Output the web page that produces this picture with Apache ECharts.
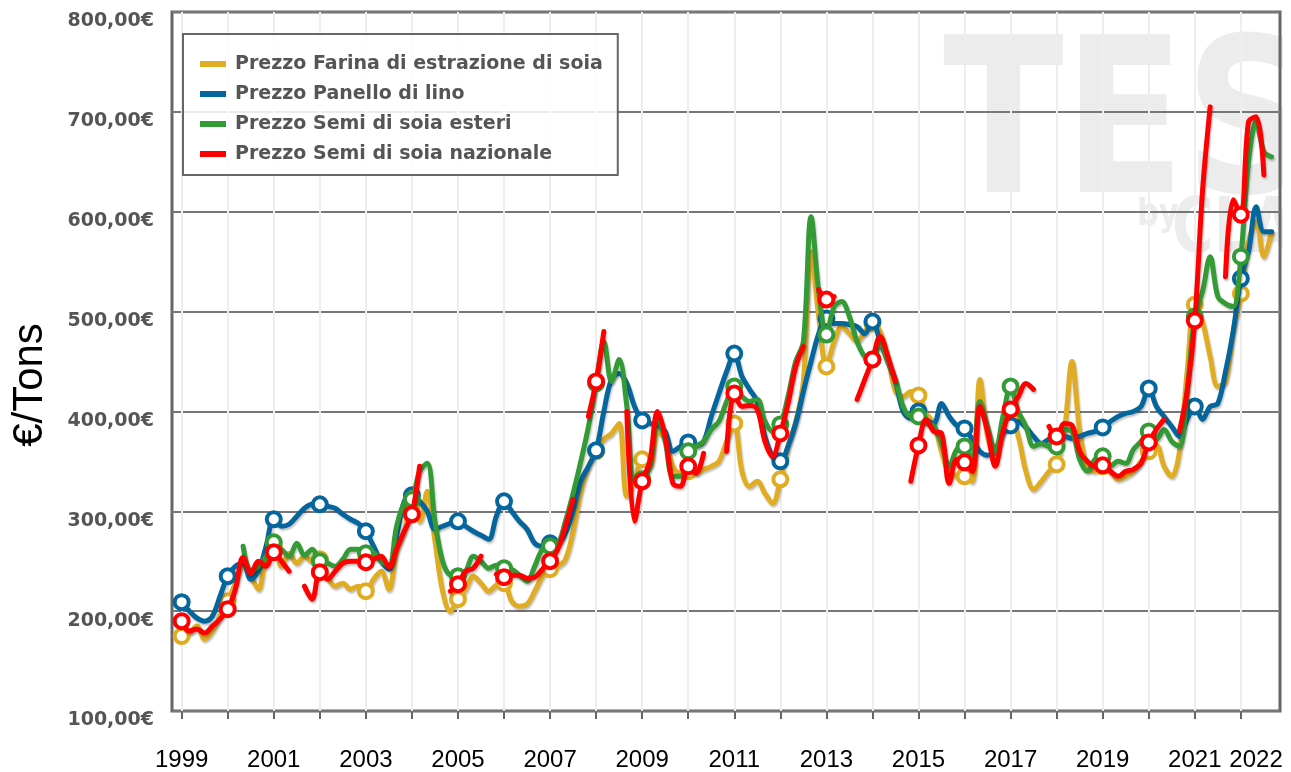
<!DOCTYPE html>
<html>
<head>
<meta charset="utf-8">
<title>Prezzi soia e lino</title>
<script src="https://cdn.jsdelivr.net/npm/echarts@6/dist/echarts.min.js"></script>
<style>
html, body { margin: 0; padding: 0; background: #fff; }
#main { width: 1291px; height: 772px; }
</style>
</head>
<body>
<div id="main"></div>
<script>
// every series is sampled every two months, starting January 1999
var startYear = 1999;
var perYear = 6;

var tickYears = [1999, 2000, 2001, 2002, 2003, 2004, 2005, 2006, 2007, 2008, 2009, 2010,
	2011, 2012, 2013, 2014, 2015, 2016, 2017, 2018, 2019, 2020, 2021, 2022];
var labelYears = [1999, 2001, 2003, 2005, 2007, 2009, 2011, 2013, 2015, 2017, 2019, 2021];
// the last label sits a little right of its tick in the original
var lastLabelAt = [2022.33];

var names = ['Prezzo Farina di estrazione di soia', 'Prezzo Panello di lino',
	'Prezzo Semi di soia esteri', 'Prezzo Semi di soia nazionale'];
var colors = ['#e0ac22', '#05669e', '#339a36', '#ff0000'];

var farina = [
	175, 178, 185, 172, 180, 195,
	210, 228, 245, 235, 222, 255,
	265, 245, 258, 248, 255, 250,
	252, 235, 225, 228, 222, 225,
	220, 232, 240, 222, 260, 280,
	305, 290, 320, 270, 220, 200,
	212, 222, 235, 228, 220, 226,
	228, 210, 205, 207, 220, 235,
	242, 245, 252, 280, 320, 345,
	360, 372, 378, 388, 315, 330,
	352, 345, 380, 372, 345, 338,
	340, 338, 342, 345, 350, 370,
	388, 340, 325, 330, 318, 308,
	332, 365, 390, 430, 560, 495,
	445, 470, 485, 478, 470, 480,
	488, 480, 455, 420, 415, 420,
	416, 398, 388, 360, 338, 336,
	335, 330, 432, 375, 355, 380,
	395, 375, 340, 322, 330, 340,
	347, 380, 450, 380, 345, 340,
	345, 340, 332, 335, 340, 350,
	360, 366, 345, 335, 360, 440,
	507, 490, 455, 425, 430, 480,
	518, 570, 590, 555, 580
];

var panello = [
	209, 200, 193, 190, 195, 215,
	235, 245, 248, 232, 240, 265,
	292, 285, 287, 295, 303, 307,
	307, 305, 303, 297, 292, 288,
	280, 265, 250, 242, 275, 310,
	316, 310, 300, 282, 285, 288,
	290, 285, 280, 276, 272, 295,
	310, 300, 290, 282, 268, 265,
	268, 268, 278, 300, 330, 345,
	361, 400, 432, 438, 428, 405,
	391, 388, 386, 380, 360, 365,
	369, 366, 370, 395, 418, 440,
	458, 435, 422, 410, 375, 355,
	350, 365, 388, 420, 450, 478,
	493, 488, 488, 487, 485, 478,
	490, 470, 450, 430, 400, 393,
	400, 392, 388, 408, 395, 386,
	383, 372, 360, 356, 362, 378,
	386, 390, 384, 375, 368, 372,
	374, 375, 373, 375, 378, 380,
	384, 390, 395, 398, 400, 405,
	423, 405, 395, 385, 375, 392,
	405, 392, 405, 408, 440, 480,
	533, 560, 605, 580, 580
];

var esteri = [
	null, null, null, null, null, null,
	null, null, 265, 240, 245, 255,
	269, 262, 255, 268, 256, 262,
	250, 248, 245, 252, 262, 262,
	258, 258, 250, 246, 285, 308,
	312, 340, 348, 290, 250, 236,
	235, 240, 255, 250, 243, 246,
	243, 242, 236, 230, 245, 262,
	265, 267, 290, 318, 350, 385,
	428, 470, 430, 452, 405, 330,
	332, 345, 395, 370, 335, 335,
	360, 365, 370, 382, 390, 410,
	425, 415, 410, 412, 390, 380,
	387, 415, 450, 470, 595, 520,
	477, 505, 510, 495, 470, 455,
	452, 468, 450, 432, 405, 395,
	395, 388, 385, 368, 345, 362,
	365, 350, 410, 385, 360, 395,
	425, 400, 385, 365, 368, 365,
	365, 382, 380, 352, 340, 352,
	355, 345, 350, 348, 362, 370,
	380, 372, 382, 370, 365, 420,
	495, 520, 555, 515, 508, 505,
	555, 650, 690, 660, 655
];

var nazionale = [
	190, 180, 182, 178, 185, 192,
	202, 222, 254, 238, 250, 245,
	259, 250, 240, null, 225, 212,
	239, 232, 240, 248, 250, 250,
	249, 252, 255, 244, 262, 280,
	297, 345, null, null, null, 220,
	227, 240, 243, 255, null, 237,
	234, 236, 236, 233, 234, 242,
	250, 262, 285, 312, null, 395,
	430, 480, null, null, 400, 290,
	330, 350, 400, 375, 328, 325,
	345, 338, 358, null, null, 360,
	418, 405, 406, 402, 370, 355,
	378, 408, 445, 465, null, 522,
	512, 515, null, null, 412, 432,
	452, 475, 455, 430, null, 330,
	366, 392, 380, 378, 328, 352,
	349, 340, 405, 380, 345, 380,
	402, 415, 428, 422, null, 385,
	375, 388, 386, 360, 350, 345,
	346, 340, 335, 340, 342, 348,
	369, 382, 392, null, 380, 420,
	491, 620, 705, null, 535, 612,
	597, 690, 695, 637
];

var seriesValues = [farina, panello, esteri, nazionale];

function toPoints(values) {
	var out = [];
	for (var i = 0; i < values.length; i++) {
		out.push([startYear + i / perYear, values[i]]);
	}
	return out;
}

var e = document.getElementById('main');
var myChart = echarts.init(e);

var series = [];
for (var s = 0; s < seriesValues.length; s++) {
	series.push({
		name : names[s],
		type : 'line',
		data : toPoints(seriesValues[s]),
		smooth : 0.35,
		connectNulls : false,
		symbol : function(v, p) {
			return p.dataIndex % perYear === 0 ? 'circle' : 'none';
		},
		symbolSize : 14,
		showSymbol : true,
		z : 2 + s,
		lineStyle : {
			color : colors[s],
			width : 5,
			cap : 'round',
			join : 'round',
			shadowColor : 'rgba(0,0,0,0.25)',
			shadowBlur : 2,
			shadowOffsetX : 1,
			shadowOffsetY : 2
		},
		itemStyle : {
			color : '#fff',
			borderColor : colors[s],
			borderWidth : 4
		},
		emphasis : { disabled : true },
		animation : false
	});
}

var yearLabelStyle = {
	margin : 37,
	hideOverlap : false,
	fontFamily : 'Liberation Sans',
	fontSize : 24,
	color : '#000',
	formatter : function(v) { return String(Math.floor(v)); }
};

myChart.setOption({
	animation : false,
	grid : {
		left : 172,
		right : 11,
		top : 12,
		bottom : 60,
		show : true,
		borderColor : '#666',
		borderWidth : 3,
		backgroundColor : 'transparent'
	},
	legend : {
		left : 183,
		top : 34,
		orient : 'vertical',
		icon : 'rect',
		itemWidth : 26,
		itemHeight : 6,
		itemGap : 10,
		padding : [20, 15, 11, 17],
		borderColor : '#666',
		borderWidth : 2,
		backgroundColor : 'rgba(255,255,255,0.85)',
		selectedMode : false,
		textStyle : {
			fontFamily : 'DejaVu Sans',
			fontWeight : 'bold',
			fontSize : 19,
			lineHeight : 20,
			color : '#555',
			padding : [0, 0, 0, 4]
		},
		data : names.map(function(n, i) {
			return { name : n, itemStyle : { color : colors[i], borderWidth : 0 } };
		})
	},
	xAxis : [ {
		type : 'value',
		min : 1998.79,
		max : 2022.85,
		axisLine : { show : false },
		axisTick : {
			show : true,
			length : 8,
			customValues : tickYears,
			lineStyle : { color : '#666', width : 2 }
		},
		splitLine : {
			show : true,
			lineStyle : { color : '#eeeeee', width : 2 }
		},
		axisLabel : Object.assign({ customValues : labelYears }, yearLabelStyle)
	}, {
		type : 'value',
		position : 'bottom',
		min : 1998.79,
		max : 2022.85,
		axisLine : { show : false },
		axisTick : { show : false },
		splitLine : { show : false },
		axisLabel : Object.assign({ customValues : lastLabelAt }, yearLabelStyle)
	} ],
	yAxis : {
		type : 'value',
		min : 100,
		max : 800,
		interval : 100,
		axisLine : { show : false },
		axisTick : { show : false },
		splitLine : {
			show : true,
			lineStyle : { color : '#777', width : 2 }
		},
		axisLabel : {
			margin : 18,
			fontFamily : 'DejaVu Sans',
			fontWeight : 'bold',
			fontSize : 19,
			color : '#555',
			verticalAlign : 'top',
			formatter : function(v) { return v + ',00€'; }
		}
	},
	graphic : [ {
		type : 'text',
		x : 943,
		y : 28,
		scaleX : 0.82,
		z : -10,
		silent : true,
		style : {
			text : 'TES',
			font : '900 216px "DejaVu Sans"',
			fill : '#ececec'
		}
	}, {
		type : 'text',
		x : 1137,
		y : 196,
		scaleX : 0.8,
		z : -10,
		silent : true,
		style : {
			text : 'by',
			font : 'bold 38px "DejaVu Sans"',
			fill : '#ececec'
		}
	}, {
		type : 'text',
		x : 1172,
		y : 194,
		scaleX : 0.75,
		z : -10,
		silent : true,
		style : {
			text : 'CLAL',
			font : 'bold 76px "DejaVu Sans"',
			fill : '#ececec'
		}
	}, {
		type : 'rect',
		z : -5,
		silent : true,
		shape : { x : 1283, y : 0, width : 20, height : 772 },
		style : { fill : '#fff' }
	}, {
		type : 'text',
		x : 30,
		y : 385,
		rotation : Math.PI / 2,
		silent : true,
		style : {
			text : '€/Tons',
			font : '42px "Liberation Sans"',
			fill : '#000',
			align : 'center',
			verticalAlign : 'middle'
		}
	} ],
	series : series
});
</script>
</body>
</html>
